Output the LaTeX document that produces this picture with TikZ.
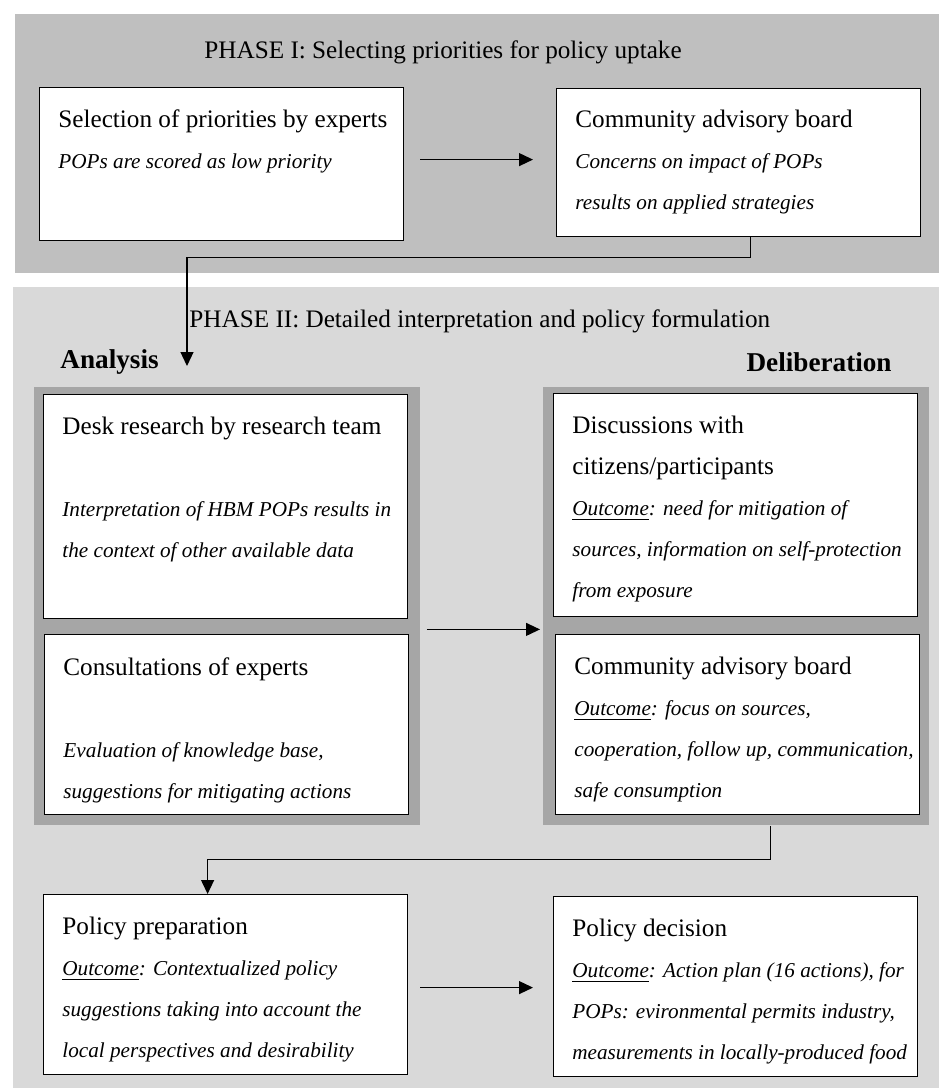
\documentclass[tikz,border=0pt]{standalone}
\usepackage{fontspec}
\setmainfont{Liberation Serif}
\usetikzlibrary{arrows.meta}

\definecolor{phaseone}{gray}{0.75}
\definecolor{phasetwo}{gray}{0.85}
\definecolor{track}{gray}{0.65}

\newcommand{\itl}[1]{{\fontsize{10.6}{20.5}\selectfont\itshape #1}}

\begin{document}
\begin{tikzpicture}
[x=0.5pt,y=-0.5pt,%
  every node/.style={font=\fontsize{12.6}{20.5}\selectfont},%
  panel/.style={anchor=north west,inner sep=0pt,draw=none},%
  head/.style={inner sep=0pt,font=\fontsize{13.6}{20.5}\selectfont\bfseries},%
  box/.style={draw,fill=white,line width=0.6pt,anchor=north west,%
    minimum width=182pt,inner sep=0pt},%
  txt/.style={anchor=north west,align=left,inner sep=0pt},%
  conn/.style={line width=0.6pt,-{Triangle[length=7pt,width=6.5pt]}}]
\useasboundingbox (0,0) rectangle (939,1088);

% phase panels
\node[panel,fill=phaseone,minimum width=462pt,minimum height=129.5pt] (ph1) at (15,14) {};
\node[panel,fill=phasetwo,minimum width=463pt,minimum height=400.5pt] (ph2) at (13,287) {};
\node[panel,fill=track,minimum width=193pt,minimum height=219pt] (ana) at (34,387) {};
\node[panel,fill=track,minimum width=193pt,minimum height=219pt] (delib) at (543,387) {};

% headings
\node[anchor=west,inner sep=0pt] (ph1-title) at (204,52) {PHASE I: Selecting priorities for policy uptake};
\node[anchor=west,inner sep=0pt] (ph2-title) at (189,321) {PHASE II: Detailed interpretation and policy formulation};
\node[head,anchor=west] (ana-title) at (60,362) {Analysis};
\node[head,anchor=east] (delib-title) at (892,362) {Deliberation};

% phase I
\node[box,minimum height=76.5pt] (sel) at (39,87) {};
\node[txt] (sel-txt) at ([xshift=9.5pt,yshift=-11pt]sel.north west)
  {Selection of priorities by experts\\
   \itl{POPs are scored as low priority}};
\node[box,minimum height=74pt] (cab) at (556,88) {};
\node[txt] (cab-txt) at ([xshift=9.5pt,yshift=-11pt]cab.north west)
  {Community advisory board\\
   \itl{Concerns on impact of POPs}\\
   \itl{results on applied strategies}};

% phase II, analysis
\node[box,minimum height=112pt] (desk) at (43,394) {};
\node[txt] (desk-txt) at ([xshift=9.5pt,yshift=-11.5pt]desk.north west)
  {Desk research by research team\\[20.5pt]
   \itl{Interpretation of HBM POPs results in}\\
   \itl{the context of other available data}};
\node[box,minimum height=90pt] (cons) at (44,634) {};
\node[txt] (cons-txt) at ([xshift=9.5pt,yshift=-11.5pt]cons.north west)
  {Consultations of experts\\[20.5pt]
   \itl{Evaluation of knowledge base,}\\
   \itl{suggestions for mitigating actions}};

% phase II, deliberation
\node[box,minimum height=111.5pt] (disc) at (553,393) {};
\node[txt] (disc-txt) at ([xshift=9.5pt,yshift=-11.5pt]disc.north west)
  {Discussions with\\
   citizens/participants\\
   \itl{\underline{Outcome}: need for mitigation of}\\
   \itl{sources, information on self-protection}\\
   \itl{from exposure}};
\node[box,minimum height=90pt] (cab2) at (555,634) {};
\node[txt] (cab2-txt) at ([xshift=9.5pt,yshift=-11.5pt]cab2.north west)
  {Community advisory board\\
   \itl{\underline{Outcome}: focus on sources,}\\
   \itl{cooperation, follow up, communication,}\\
   \itl{safe consumption}};

% policy
\node[box,minimum height=90pt] (prep) at (43,894) {};
\node[txt] (prep-txt) at ([xshift=9.5pt,yshift=-11.5pt]prep.north west)
  {Policy preparation\\
   \itl{\underline{Outcome}: Contextualized policy}\\
   \itl{suggestions taking into account the}\\
   \itl{local perspectives and desirability}};
\node[box,minimum height=90pt] (dec) at (553,896) {};
\node[txt] (dec-txt) at ([xshift=9.5pt,yshift=-11.5pt]dec.north west)
  {Policy decision\\
   \itl{\underline{Outcome}: Action plan (16 actions), for}\\
   \itl{POPs: evironmental permits industry,}\\
   \itl{measurements in locally-produced food}};

% connectors
\coordinate (ana-in) at (187,366);
\draw[conn] ([xshift=8pt,yshift=2.25pt]sel.east) -- ([xshift=-11.5pt,yshift=2.25pt]sel.east -| cab.west);
\draw[conn] ([xshift=6pt]cab.south) -- ++(0,-10pt) -| (ana-in);
\draw[conn] ([xshift=3pt,yshift=-11.5pt]ana.east) -- ([xshift=-1.5pt,yshift=-11.5pt]ana.east -| delib.west);
\draw[conn] ([xshift=17pt]delib.south) -- ++(0,-17pt) -| ([xshift=-9pt]prep.north);
\draw[conn] ([xshift=6pt,yshift=-1.5pt]prep.east) -- ([xshift=-10pt,yshift=-1.5pt]prep.east -| dec.west);
\end{tikzpicture}
\end{document}
